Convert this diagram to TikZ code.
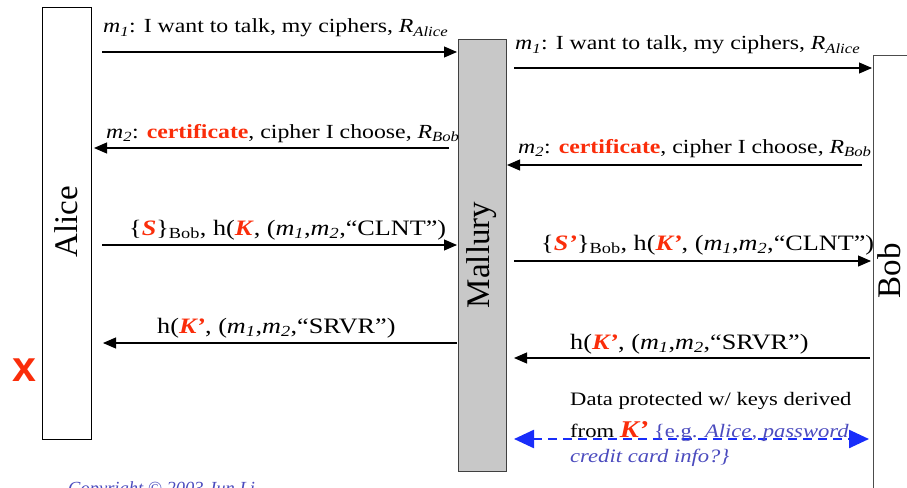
\documentclass[tikz,border=0pt]{standalone}
\usepackage{fontspec}
\setmainfont{Liberation Serif}[FakeStretch=1.19]
\setsansfont{Liberation Sans}
\newfontfamily\plainserif{Liberation Serif}
\usetikzlibrary{arrows.meta}
\definecolor{kred}{RGB}{250,45,10}
\definecolor{ablue}{RGB}{25,45,250}
\definecolor{tblue}{RGB}{75,75,190}
\definecolor{mgray}{RGB}{200,200,200}
\newcommand{\mi}[1]{\textit{m}\textsubscript{\textit{#1}}}
\newcommand{\rk}[1]{\textcolor{kred}{\textbf{\textit{#1}}}}
\tikzset{
  lifeline/.style={draw, line width=1.2pt, inner sep=0pt, anchor=north west},
  party/.style={rotate=90, font=\plainserif\fontsize{33}{36}\selectfont, inner sep=0pt},
  msg/.style={line width=1.1pt, -{Triangle[length=13pt,width=11pt]}},
  lbl/.style={anchor=base west, inner sep=0pt, font=\fontsize{20}{24}\selectfont},
  lblb/.style={anchor=base west, inner sep=0pt, font=\fontsize{22}{26}\selectfont},
  datatxt/.style={anchor=base west, inner sep=0pt, font=\fontsize{19}{23}\selectfont},
  dataflow/.style={ablue, line width=2.4pt, dash pattern=on 9pt off 6pt,
    {Triangle[length=20pt,width=18pt]}-{Triangle[length=20pt,width=18pt]}}
}
\begin{document}
\begin{tikzpicture}[x=1pt,y=-1pt]
\useasboundingbox (0,0) rectangle (907,487);
\clip (0,0) rectangle (907,487);
% lifeline boxes
\node[lifeline, minimum width=49pt, minimum height=432pt] (alice) at (42,7) {};
\node[lifeline, draw=black!75, fill=mgray, minimum width=48pt, minimum height=432pt] (mallury) at (458,39) {};
\node[lifeline, draw=black!70, minimum width=50pt, minimum height=450pt] (bob) at (873,55) {};
\node[party] (alicet) at (66,222) {Alice};
\node[party] (malluryt) at (482,255) {Mallury};
\node[party] (bobt) at (889,271) {Bob};
% message endpoints
\coordinate (a1) at (102,52);  \coordinate (m1) at (457,52);
\coordinate (m2) at (514,68);  \coordinate (b2) at (872,68);
\coordinate (b3) at (862,165); \coordinate (m3) at (507,165);
\coordinate (m4) at (449,148); \coordinate (a4) at (94,148);
\coordinate (a5) at (102,245); \coordinate (m5) at (457,245);
\coordinate (m6) at (514,261); \coordinate (b6) at (871,261);
\coordinate (m7) at (457,343); \coordinate (a7) at (103,343);
\coordinate (b8) at (870,358); \coordinate (m8) at (514,358);
\coordinate (m9) at (514,439); \coordinate (b9) at (869,439);
\draw[msg] (a1) -- (m1);
\draw[msg] (m2) -- (b2);
\draw[msg] (b3) -- (m3);
\draw[msg] (m4) -- (a4);
\draw[msg] (a5) -- (m5);
\draw[msg] (m6) -- (b6);
\draw[msg] (m7) -- (a7);
\draw[msg] (b8) -- (m8);
% labels
\node[lbl] (l1) at (103,33) {\mi{1}: I want to talk, my ciphers, \textit{R}\textsubscript{\textit{Alice}}};
\node[lbl] (l2) at (515,50) {\mi{1}: I want to talk, my ciphers, \textit{R}\textsubscript{\textit{Alice}}};
\node[lbl] (l3) at (106,138) {\mi{2}: \textcolor{kred}{\textbf{certificate}}, cipher I choose, \textit{R}\textsubscript{\textit{Bob}}};
\node[lbl] (l4) at (518,153) {\mi{2}: \textcolor{kred}{\textbf{certificate}}, cipher I choose, \textit{R}\textsubscript{\textit{Bob}}};
\node[lblb] (l5) at (129,235) {\{\rk{S}\}\textsubscript{Bob}, h(\rk{K}, (\mi{1},\mi{2},“CLNT”)};
\node[lblb] (l6) at (541,250) {\{\rk{S’}\}\textsubscript{Bob}, h(\rk{K’}, (\mi{1},\mi{2},“CLNT”)};
\node[lblb] (l7) at (157,333) {h(\rk{K’}, (\mi{1},\mi{2},“SRVR”)};
\node[lblb] (l8) at (570,349) {h(\rk{K’}, (\mi{1},\mi{2},“SRVR”)};
% data flow
\draw[dataflow] (m9) -- (b9);
\node[datatxt] (d1) at (570,405) {Data protected w/ keys derived};
\node[datatxt] (d2) at (570,437) {from {\fontsize{24}{24}\selectfont\rk{K’}} \textcolor{tblue}{\{e.g. \textit{Alice, password}}};
\node[datatxt, text=tblue, font=\fontsize{19}{23}\selectfont\itshape] (d3) at (570,462) {credit card info?\}};
% red x
\node[text=kred, font=\fontsize{43}{43}\selectfont\sffamily\bfseries, inner sep=0pt] (x) at (24,370) {x};
% copyright
\node[anchor=base west, inner sep=0pt, text=tblue, font=\plainserif\fontsize{18.5}{20}\selectfont\itshape] (copy) at (68,494) {Copyright © 2003 Jun Li};
\end{tikzpicture}
\end{document}
